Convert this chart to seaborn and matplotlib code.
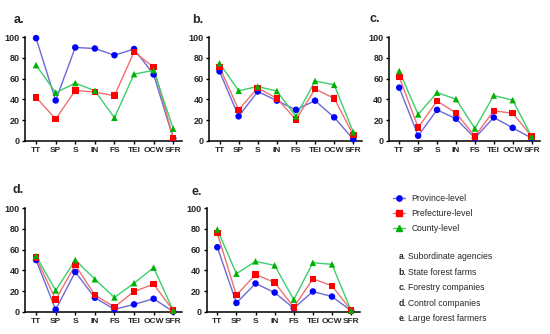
import numpy as np
import pandas as pd
import matplotlib
matplotlib.use("Agg")
import matplotlib.pyplot as plt
from matplotlib.lines import Line2D
import seaborn as sns

# Categories on the x-axis
categories = ['TT', 'SP', 'S', 'IN', 'FS', 'TEI', 'OCW', 'SFR']
levels = ['Province-level', 'Prefecture-level', 'County-level']

# Values per panel (province, prefecture, county)
a_province = [99, 39, 90, 89, 82.5, 88.5, 64, 2.5]
a_prefecture = [42, 21, 48.7, 47, 43.6, 85.7, 71, 3]
a_county = [73, 46.5, 55.7, 48.4, 22.3, 64.3, 68, 11.8]

b_province = [67, 23.7, 47.6, 38.8, 30, 38.8, 22.7, 1.6]
b_prefecture = [71.3, 30, 51, 41, 20.5, 50, 41, 5.7]
b_county = [74.8, 48.3, 52.4, 48, 23.7, 57.7, 54, 8.5]

c_province = [51.3, 5, 29.9, 21.4, 2.8, 22.6, 12.6, 2.8]
c_prefecture = [61.6, 12.9, 38.4, 27, 4.4, 29, 26.7, 4.4]
c_county = [67.3, 25.5, 46.5, 40.3, 12, 43.7, 39.3, 4.2]

d_province = [50, 2.2, 38.5, 13.7, 2.5, 7.3, 12.7, 0.3]
d_prefecture = [52.2, 11.8, 45.2, 16.2, 4.8, 19.7, 26.8, 1.3]
d_county = [53.8, 20.7, 50, 31.5, 14, 27.7, 42.7, 1.3]

e_province = [62.3, 8.7, 27.4, 18.7, 3.5, 19.7, 14.8, 1.3]
e_prefecture = [75.8, 16.1, 36.1, 28.4, 4.5, 31.9, 25.2, 1.6]
e_county = [79.4, 36.8, 48.7, 44.8, 11.9, 47.4, 45.8, 1.3]

panel_labels = ['a.', 'b.', 'c.', 'd.', 'e.']
panel_names = ['Subordinate agencies', 'State forest farms', 'Forestry companies',
               'Control companies', 'Large forest farmers']

panels = [
    (a_province, a_prefecture, a_county),
    (b_province, b_prefecture, b_county),
    (c_province, c_prefecture, c_county),
    (d_province, d_prefecture, d_county),
    (e_province, e_prefecture, e_county),
]

marker_colors = {'Province-level': '#0000ff', 'Prefecture-level': '#ff0000', 'County-level': '#00b000'}
line_colors = {'Province-level': '#6a6ad8', 'Prefecture-level': '#f07070', 'County-level': '#3ccf6a'}
marker_shapes = {'Province-level': 'o', 'Prefecture-level': 's', 'County-level': '^'}

sns.set_style('ticks')
plt.rcParams['font.family'] = ['Liberation Sans', 'DejaVu Sans']

fig = plt.figure(figsize=(5.5, 3.34), dpi=100)

# axes rectangles [left, bottom, width, height] in figure fractions
rects = [
    [0.046, 0.578, 0.285, 0.311],
    [0.380, 0.578, 0.278, 0.311],
    [0.707, 0.578, 0.275, 0.311],
    [0.046, 0.066, 0.285, 0.311],
    [0.376, 0.066, 0.278, 0.311],
]
title_pos = [(0.025, 0.94), (0.349, 0.94), (0.671, 0.944), (0.023, 0.43), (0.349, 0.425)]

for i, (vals, rect) in enumerate(zip(panels, rects)):
    ax = fig.add_axes(rect)
    df = pd.DataFrame({
        'category': categories * 3,
        'value': np.concatenate(vals),
        'level': np.repeat(levels, len(categories)),
    })
    sns.lineplot(data=df, x='category', y='value', hue='level', palette=line_colors,
                 linewidth=1.0, legend=False, ax=ax, sort=False)
    sns.scatterplot(data=df, x='category', y='value', hue='level', style='level',
                    palette=marker_colors, markers=marker_shapes, s=22, linewidth=0,
                    legend=False, ax=ax, clip_on=False, zorder=5)
    ax.set_xlim(-0.55, 7.45)
    ax.set_ylim(0, 100)
    ax.set_yticks([0, 20, 40, 60, 80, 100])
    ax.set_xlabel('')
    ax.set_ylabel('')
    sns.despine(ax=ax)
    for s in ['left', 'bottom']:
        ax.spines[s].set_linewidth(1.1)
        ax.spines[s].set_color('black')
    ax.tick_params(axis='both', length=2.5, width=1.0, color='black', pad=1.5)
    for lab in ax.get_xticklabels():
        lab.set_fontsize(6.0)
        lab.set_fontweight('bold')
    for lab in ax.get_yticklabels():
        lab.set_fontsize(6.5)
        lab.set_fontweight('bold')
    fig.text(title_pos[i][0], title_pos[i][1], panel_labels[i], fontsize=9,
             fontweight='bold', va='center', ha='left')

# legend for levels
handles = [Line2D([0], [0], color=line_colors[l], lw=1.0, marker=marker_shapes[l],
                  markerfacecolor=marker_colors[l], markeredgecolor=marker_colors[l],
                  markersize=3.8) for l in levels]
fig.legend(handles, levels, loc='upper left', bbox_to_anchor=(0.715, 0.42),
           frameon=False, fontsize=6.2, handlelength=1.4, handletextpad=0.7,
           labelspacing=0.7, borderpad=0, borderaxespad=0)

# panel descriptions
desc_y = [0.231, 0.183, 0.138, 0.090, 0.045]
for lab, name, y in zip(panel_labels, panel_names, desc_y):
    fig.text(0.725, y, lab, fontsize=6.2, fontweight='bold', va='center', ha='left')
    fig.text(0.742, y, name, fontsize=6.2, va='center', ha='left')

fig.savefig('out.png', dpi=100)
